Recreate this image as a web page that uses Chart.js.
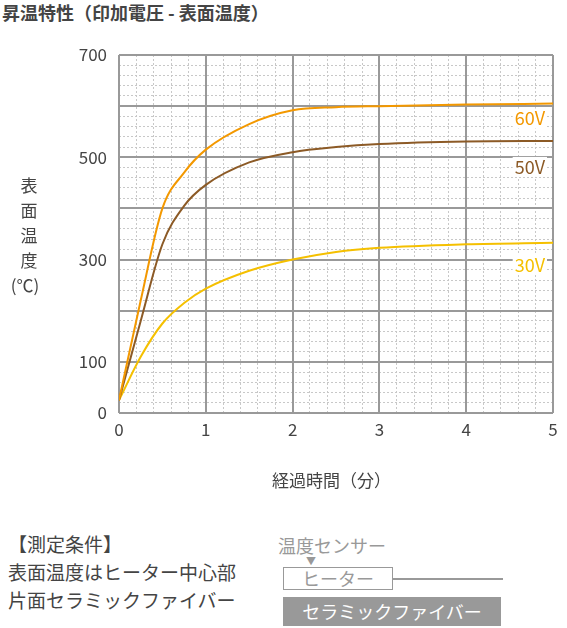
<!DOCTYPE html>
<html><head><meta charset="utf-8">
<script src="https://cdn.jsdelivr.net/npm/chart.js@4"></script>
<style>
body{margin:0;width:567px;height:628px;background:#fff;font-family:"Noto Sans CJK JP","Noto Sans",sans-serif;color:#444;position:relative;overflow:hidden}
.a{position:absolute;white-space:nowrap}
</style></head><body>
<div class="a" style="left:2px;top:-1px;font-size:18px;font-weight:bold;color:#444">昇温特性（印加電圧 - 表面温度）</div>
<div style="position:absolute;left:0;top:0;width:567px;height:500px"><canvas id="c"></canvas></div>
<div class="a" style="left:16px;top:172px;font-size:17px;line-height:25px;text-align:center;width:26px">表<br>面<br>温<br>度<br><span style="margin-left:-8px">(℃)</span></div>
<div class="a" style="left:272px;top:467px;font-size:17px">経過時間（分）</div>
<div class="a" style="left:8px;top:530px;font-size:19px;line-height:28px">【測定条件】<br>表面温度はヒーター中心部<br>片面セラミックファイバー</div>
<div class="a" style="left:278px;top:532px;font-size:18px;color:#999">温度センサー</div>
<div class="a" style="left:306px;top:553px;font-size:10px;color:#999">▼</div>
<div class="a" style="left:283px;top:567px;width:108px;height:21px;border:1.5px solid #999;font-size:18px;color:#999;text-align:center;line-height:21px">ヒーター</div>
<div class="a" style="left:393px;top:578px;width:110px;height:1.5px;background:#999"></div>
<div class="a" style="left:283px;top:597px;width:218px;height:29px;background:#999;color:#fff;font-size:18px;text-align:center;line-height:29px">セラミックファイバー</div>
<script>
const times = [0, 0.25, 0.5, 0.75, 1, 1.5, 2, 2.5, 3, 4, 5];
const v60 = [25, 220, 400, 470, 515, 565, 592, 598, 600, 603, 605];
const v50 = [25, 180, 330, 405, 446, 490, 510, 520, 526, 531, 532];
const v30 = [25, 110, 175, 215, 243, 278, 300, 315, 323, 330, 333];
const yLabels = [0, 100, 300, 500, 700];
const seriesNames = ["60V", "50V", "30V"];
const colors = ["#f39800", "#8c5a26", "#f5c000"];

const pts = arr => arr.map((v, i) => ({ x: times[i], y: v }));

const labelPlugin = {
  id: "lbl",
  afterDatasetsDraw(chart) {
    const ctx = chart.ctx;
    ctx.save();
    ctx.font = "18px 'Noto Sans CJK JP', sans-serif";
    ctx.textAlign = "right";
    ctx.textBaseline = "middle";
    const offs = [15, 26, 22];
    chart.data.datasets.forEach((ds, i) => {
      const last = ds.data[ds.data.length - 1];
      const x = chart.scales.x.getPixelForValue(5) - 8;
      const y = chart.scales.y.getPixelForValue(last.y) + offs[i];
      ctx.fillStyle = "#fff";
      const w = ctx.measureText(seriesNames[i]).width;
      ctx.fillRect(x - w - 2, y - 10, w + 4, 20);
      ctx.fillStyle = colors[i];
      ctx.fillText(seriesNames[i], x, y);
    });
    ctx.restore();
  }
};

new Chart(document.getElementById("c"), {
  type: "line",
  data: {
    datasets: [v60, v50, v30].map((arr, i) => ({
      label: seriesNames[i], data: pts(arr), borderColor: colors[i],
      borderWidth: 2, pointRadius: 0, tension: 0.4, cubicInterpolationMode: "monotone",
      xAxisID: "x", yAxisID: "y"
    }))
  },
  options: {
    responsive: true, maintainAspectRatio: false, animation: false,
    layout: { padding: { top: 55, right: 14, left: 0, bottom: 0 } },
    plugins: { legend: { display: false }, tooltip: { enabled: false } },
    scales: {
      x2: {
        type: "linear", min: 0, max: 5, position: "bottom",
        ticks: { stepSize: 0.2, display: false },
        grid: { color: "#c8c8c8", lineWidth: 1, drawTicks: false },
        border: { display: false, dash: [2, 2] },
        afterFit: s => { s.height = 0; }
      },
      y2: {
        min: 0, max: 700, position: "left",
        ticks: { stepSize: 20, display: false },
        grid: { color: "#c8c8c8", lineWidth: 1, drawTicks: false },
        border: { display: false, dash: [2, 2] },
        afterFit: s => { s.width = 0; }
      },
      x: {
        type: "linear", min: 0, max: 5, position: "bottom",
        ticks: { stepSize: 1, color: "#444", font: { size: 17, family: "Noto Sans CJK JP" }, padding: 6 },
        grid: { color: "#999", lineWidth: 2, drawTicks: false },
        border: { display: false },
        afterFit: s => { s.height = 87; }
      },
      y: {
        min: 0, max: 700, position: "left",
        ticks: {
          stepSize: 100, color: "#444", font: { size: 17, family: "Noto Sans CJK JP" }, padding: 12,
          callback: v => yLabels.includes(v) ? v : ""
        },
        grid: { color: "#999", lineWidth: 2, drawTicks: false },
        border: { display: false },
        afterFit: s => { s.width = 119; }
      }
    }
  },
  plugins: [labelPlugin]
});
</script>
</body></html>
